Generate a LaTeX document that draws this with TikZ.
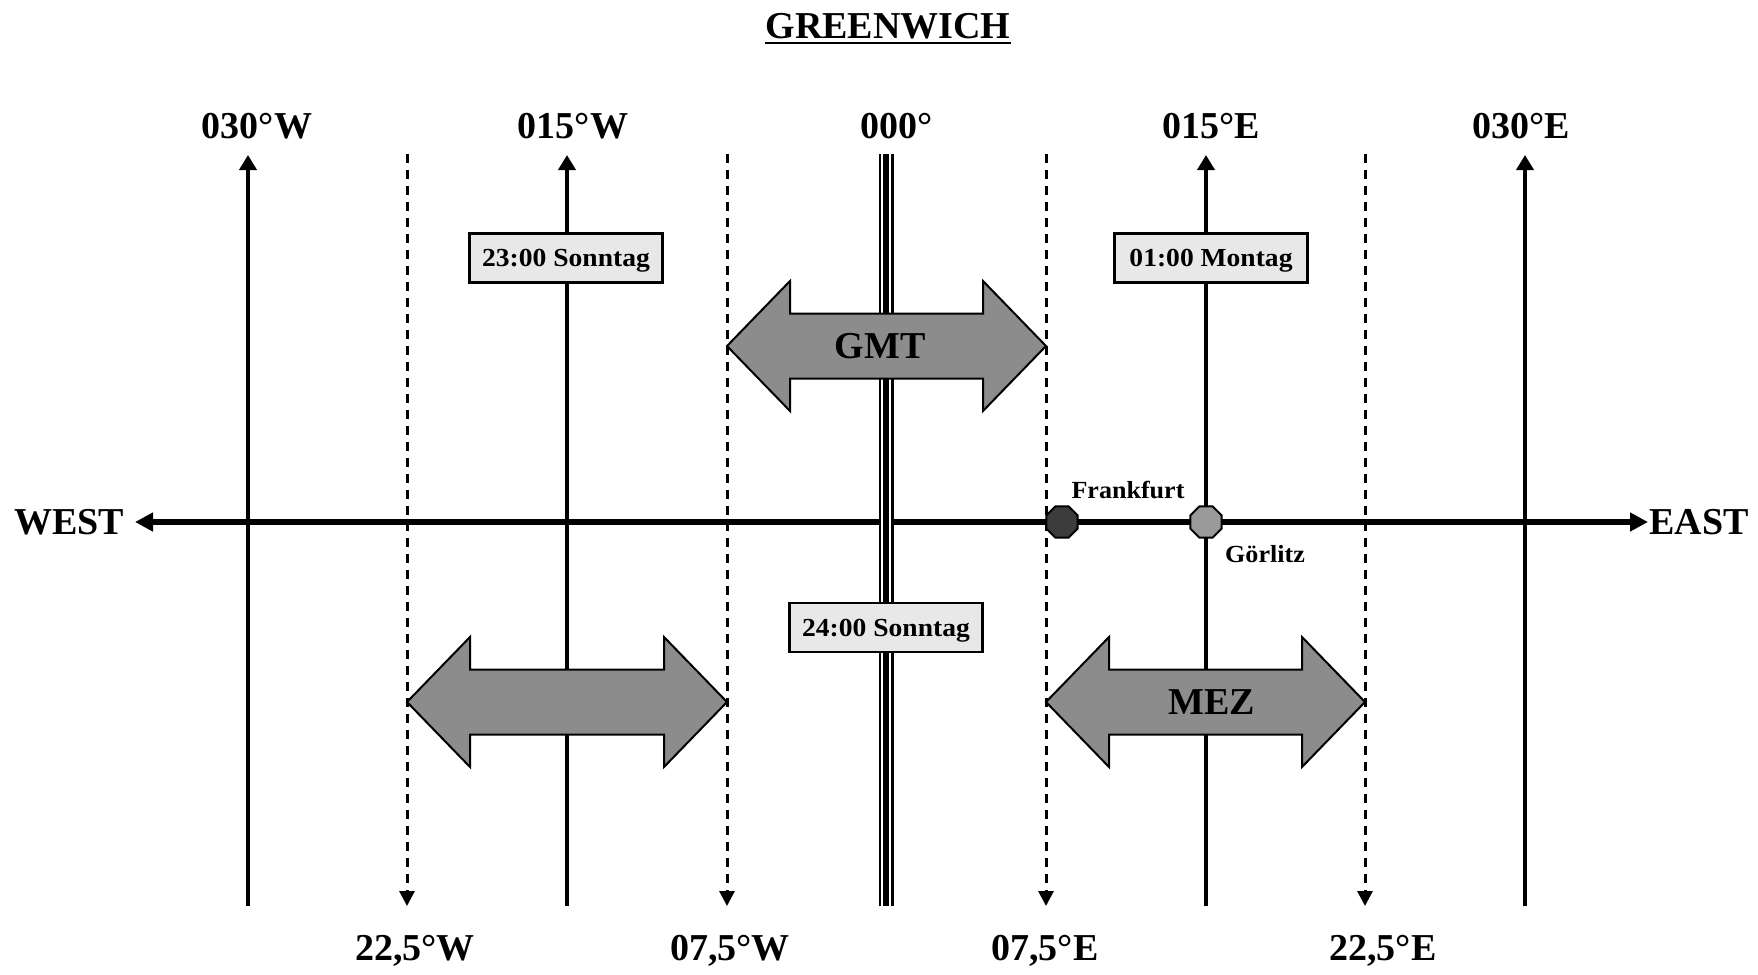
\documentclass[tikz,border=0pt]{standalone}
\usepackage{fontspec}
\setmainfont{Liberation Serif}
\newfontfamily\widefont{Liberation Serif}[FakeStretch=1.06]
\usetikzlibrary{arrows.meta,shapes.geometric}
\definecolor{boxgray}{HTML}{E8E8E8}
\definecolor{arrowgray}{HTML}{8C8C8C}
\definecolor{darkcity}{HTML}{3C3C3C}
\definecolor{lightcity}{HTML}{9A9A9A}
\begin{document}
\begin{tikzpicture}[x=0.5pt,y=-0.5pt,
  meridian/.style={line width=2.25pt,-{Triangle[length=7.5pt,width=8.5pt]}},
  zoneline/.style={line width=1.5pt,dash pattern=on 4.5pt off 3.5pt,-{Triangle[length=7.5pt,width=7.5pt]}},
  axisline/.style={line width=3pt,{Triangle[length=9pt,width=9pt]}-{Triangle[length=9pt,width=9pt]}},
  biglabel/.style={font=\fontsize{19}{21}\selectfont\bfseries,inner sep=0pt,anchor=base},
  timebox/.style={draw,line width=1.3pt,fill=boxgray,minimum width=96.5pt,minimum height=24.5pt,inner sep=0pt,text depth=0pt,font=\widefont\fontsize{13}{15}\selectfont\bfseries},
  zonearrow/.style={draw,line width=1pt,fill=arrowgray,line join=miter},
  city/.style={regular polygon,regular polygon sides=8,draw,line width=1pt,inner sep=0pt,minimum size=17pt},
  citylabel/.style={font=\widefont\fontsize{12.3}{14}\selectfont\bfseries,inner sep=0pt,anchor=base}
]
\useasboundingbox (0,0) rectangle (1758,975);

% meridian end points
\coordinate (w30t) at (248,155);  \coordinate (w30b) at (248,906);
\coordinate (w15t) at (567,155);  \coordinate (w15b) at (567,906);
\coordinate (g0t)  at (886,154);  \coordinate (g0b)  at (886,906);
\coordinate (e15t) at (1206,155); \coordinate (e15b) at (1206,906);
\coordinate (e30t) at (1525,155); \coordinate (e30b) at (1525,906);
% zone boundaries
\coordinate (w225t) at (407,154);  \coordinate (w225b) at (407,906);
\coordinate (w75t)  at (727,154);  \coordinate (w75b)  at (727,906);
\coordinate (e75t)  at (1046,154); \coordinate (e75b)  at (1046,906);
\coordinate (e225t) at (1365,154); \coordinate (e225b) at (1365,906);
% axis
\coordinate (axw) at (135,522); \coordinate (axe) at (1648,522);

% title
\node[biglabel] (title) at (888,38) {GREENWICH};
\draw[line width=1.15pt] ([yshift=-2.4pt]title.base west) -- ([yshift=-2.4pt]title.base east);

% top labels
\node[biglabel] (lw30) at (257,138) {030°W};
\node[biglabel] (lw15) at (573,138) {015°W};
\node[biglabel] (lg0)  at (897,138) {000°};
\node[biglabel] (le15) at (1211,138) {015°E};
\node[biglabel] (le30) at (1521,138) {030°E};

% bottom labels
\node[biglabel] (lw225) at (415,960) {22,5°W};
\node[biglabel] (lw75)  at (730,960) {07,5°W};
\node[biglabel] (le75)  at (1045,960) {07,5°E};
\node[biglabel] (le225) at (1383,960) {22,5°E};

% direction labels
\node[biglabel] (west) at (69,534) {WEST};
\node[biglabel] (east) at (1699,534) {EAST};

% meridians
\draw[meridian] (w30b) -- (w30t);
\draw[meridian] (w15b) -- (w15t);
\draw[meridian] (e15b) -- (e15t);
\draw[meridian] (e30b) -- (e30t);

% zone boundaries
\draw[zoneline] (w225t) -- (w225b);
\draw[zoneline] (w75t) -- (w75b);
\draw[zoneline] (e75t) -- (e75b);
\draw[zoneline] (e225t) -- (e225b);

% axis
\draw[axisline] (axw) -- (axe);

% Greenwich triple line
\draw[line width=7.5pt] (g0t) -- (g0b);
\draw[line width=5pt,white] (g0t) -- (g0b);
\draw[line width=3.3pt] (g0t) -- (g0b);

% zone arrows
\draw[zonearrow] (727,346) -- (790,281) -- (790,313.5) -- (983,313.5) -- (983,281) -- (1046,346)
  -- (983,411) -- (983,378.5) -- (790,378.5) -- (790,411) -- cycle;
\node[biglabel] (gmt) at (880,358) {GMT};

\draw[zonearrow] (407,702) -- (470,637) -- (470,669.5) -- (664,669.5) -- (664,637) -- (727,702)
  -- (664,767) -- (664,734.5) -- (470,734.5) -- (470,767) -- cycle;

\draw[zonearrow] (1046,702) -- (1109,637) -- (1109,669.5) -- (1302,669.5) -- (1302,637) -- (1365,702)
  -- (1302,767) -- (1302,734.5) -- (1109,734.5) -- (1109,767) -- cycle;
\node[biglabel] (mez) at (1212,714) {MEZ};

% time boxes
\node[timebox] (t23) at (566,258) {23:00 Sonntag};
\node[timebox] (t01) at (1211,258) {01:00 Montag};
\node[timebox] (t24) at (886,627.5) {24:00 Sonntag};

% cities
\node[city,fill=darkcity] (frankfurt) at (1062,522) {};
\node[city,fill=lightcity] (goerlitz) at (1206,522) {};
\node[citylabel] (lfrank) at (1128,498) {Frankfurt};
\node[citylabel] (lgoer) at (1265,562) {Görlitz};
\end{tikzpicture}
\end{document}
